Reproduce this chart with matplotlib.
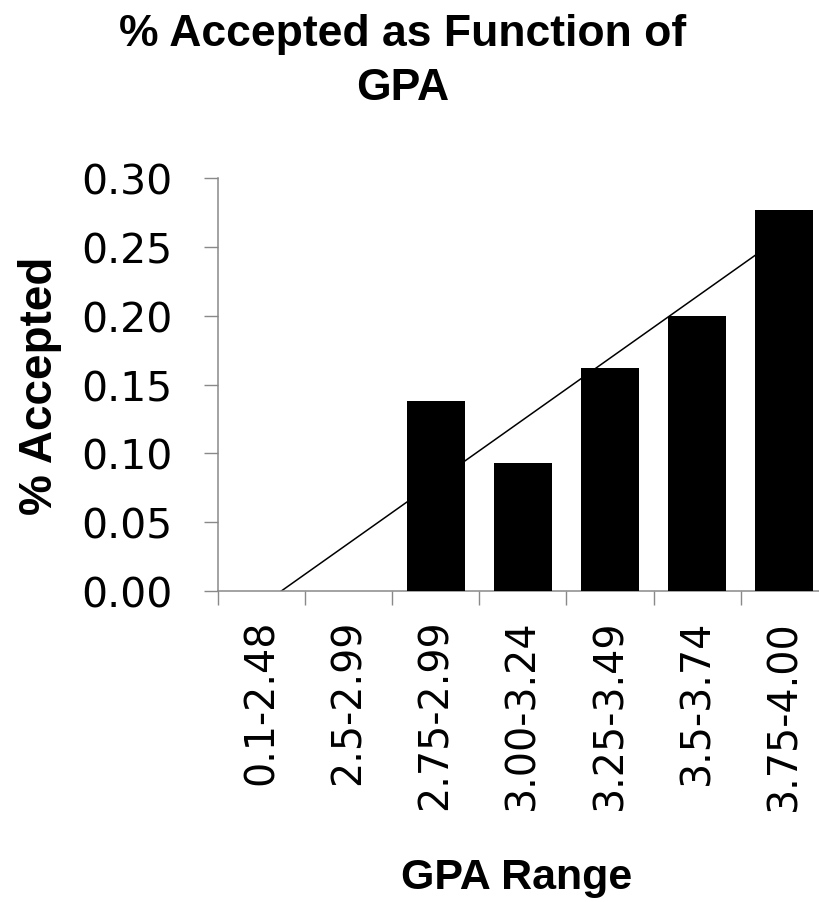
import numpy as np
import matplotlib
matplotlib.use("Agg")
import matplotlib.pyplot as plt

# acceptance rate per GPA bucket
gpa_ranges = ["0.1-2.48", "2.5-2.99", "2.75-2.99", "3.00-3.24",
              "3.25-3.49", "3.5-3.74", "3.75-4.00"]
pct_accepted = [0.0, 0.0, 0.138, 0.093, 0.162, 0.200, 0.277]
yticks = [0.00, 0.05, 0.10, 0.15, 0.20, 0.25, 0.30]

plt.rcParams['font.family'] = ['Liberation Sans', 'DejaVu Sans']

fig = plt.figure(figsize=(8.19, 9.03), dpi=100)
ax = fig.add_axes([218/819, 1 - 592/903, 609.7/819, 413/903])

x = np.arange(len(gpa_ranges))
ax.bar(x, pct_accepted, width=0.667, color='black', zorder=3)

# linear trendline over the category index, like excel does it
slope, icpt = np.polyfit(x + 1, pct_accepted, 1)
ax.plot(x, slope * (x + 1) + icpt, color='black', lw=1.1, zorder=2)

ax.set_xlim(-0.5, len(gpa_ranges) - 0.5)
ax.set_ylim(0, 0.30)
ax.set_yticks(yticks)
ax.set_yticklabels(["%.2f" % v for v in yticks])

# tick marks sit between categories, labels in the middle
ax.set_xticks(np.arange(-0.5, len(gpa_ranges)))
ax.set_xticklabels([])
ax.set_xticks(x, minor=True)
ax.set_xticklabels(gpa_ranges, minor=True, rotation=90, va='top', ha='center')

gray = '#898989'
for s in ['top', 'right']:
    ax.spines[s].set_visible(False)
for s in ['left', 'bottom']:
    ax.spines[s].set_color(gray)
    ax.spines[s].set_linewidth(1.1)

ax.tick_params(axis='both', which='major', direction='out', length=10,
               width=1.0, color=gray)
ax.tick_params(axis='y', labelsize=29.5, pad=23)
ax.tick_params(axis='x', which='minor', length=0, labelsize=28.5, pad=20)
for lbl in ax.get_yticklabels() + ax.get_xticklabels(minor=True):
    lbl.set_fontfamily('DejaVu Sans')

ax.set_ylabel("% Accepted", fontsize=33, fontweight='bold', va='center')
ax.yaxis.set_label_coords(-0.292, 0.5)
ax.set_xlabel("GPA Range", fontsize=31, fontweight='bold', va='center')
ax.xaxis.set_label_coords(0.49, -0.693)

fig.text(403/819, 1 - 14/903, "% Accepted as Function of\nGPA",
         ha='center', va='top', fontsize=32, fontweight='bold',
         linespacing=1.4)

fig.savefig("out.png", dpi=100)
